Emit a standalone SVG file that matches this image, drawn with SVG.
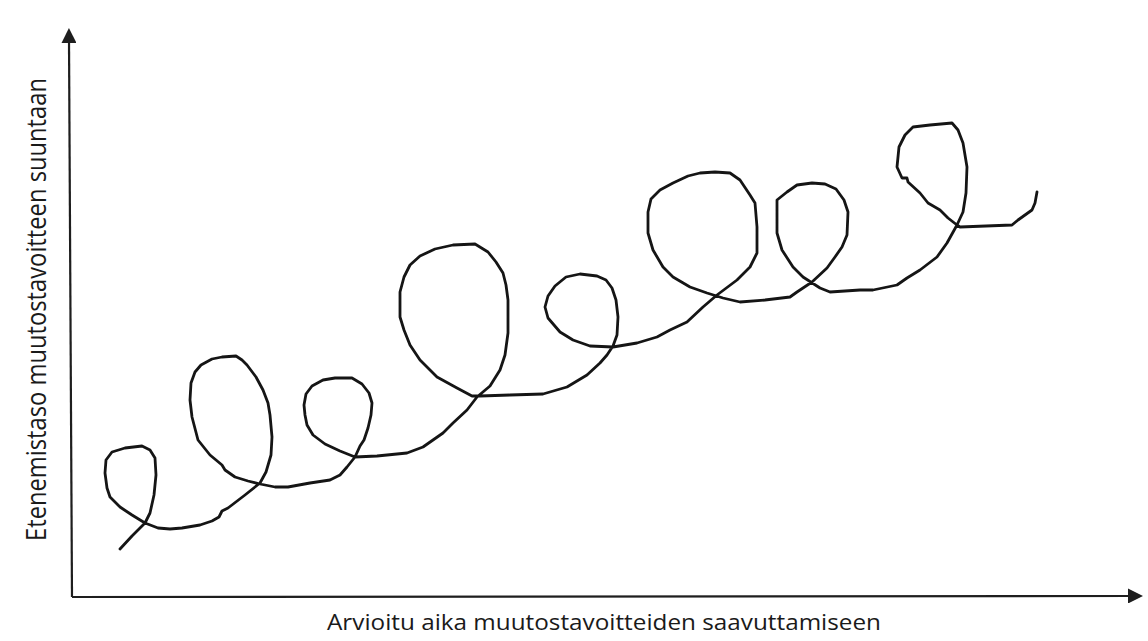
<svg xmlns="http://www.w3.org/2000/svg" width="1148" height="641" viewBox="0 0 1148 641">
  <style>
    .axis { stroke: #1e1e1e; stroke-width: 2.2; fill: none; }
    .curve { stroke: #151515; stroke-width: 2.8; fill: none; stroke-linejoin: round; stroke-linecap: round; }
    .label { font-family: "Open Sans", "Liberation Sans", sans-serif; fill: #1a1a1a; }
  </style>
  <defs>
    <marker id="arrow" markerUnits="userSpaceOnUse" markerWidth="15" markerHeight="15" refX="2" refY="7.5" orient="auto">
      <path d="M0,0 L15,7.5 L0,15 z" fill="#1e1e1e"/>
    </marker>
  </defs>
  <rect width="1148" height="641" fill="#ffffff"/>
  <g id="connectors">
    <line id="y-axis" class="axis" x1="72" y1="597" x2="69" y2="41" marker-end="url(#arrow)"/>
    <line id="x-axis" class="axis" x1="72" y1="597" x2="1130" y2="596" marker-end="url(#arrow)"/>
  </g>
  <g id="curve">
    <polyline class="curve" points="120,549 132,536 145,523 150,513 154,495 156,475 155,458 150,450 142,446 125,448 112,452 106,460 105,473 107,488 110,497 120,507 132,515 145,523 158,528 170,529 182,528 200,525 212,521 219,517 222,511 228,508 245,495 260,483 266,472 271,455 272,437 270,415 268,403 263,390 256,377 247,365 242,360 236,356 222,357 212,359 201,365 195,372 191,383 190,400 192,417 198,440 210,455 222,465 225,470 235,477 248,481 260,484 275,487 288,487 310,483 330,480 340,475 347,467 355,457 360,446 364,440 368,428 371,415 372,403 369,393 362,384 352,378 335,378 323,380 312,386 306,394 304,405 305,415 307,425 313,435 325,444 340,451 355,457 377,456 407,453 423,447 443,433 453,423 467,410 477,397 490,386 500,370 505,355 508,333 508,300 506,285 503,273 496,262 488,252 475,244 453,245 435,249 420,256 410,265 404,277 400,292 400,317 404,330 410,345 420,360 437,377 457,388 472,396 480,396 510,395 543,394 567,387 587,375 600,363 607,355 613,346 617,335 618,317 616,300 612,288 606,280 597,276 580,274 566,277 555,286 548,296 545,307 548,318 560,332 573,340 590,346 613,347 637,343 657,337 670,330 687,322 703,307 717,295 737,280 750,267 757,253 757,227 755,203 750,195 740,180 730,173 715,172 700,173 688,176 673,183 660,190 651,199 648,212 648,233 653,250 663,267 673,277 690,287 707,293 723,298 740,302 765,300 790,297 797,292 812,282 827,268 835,257 842,247 847,235 848,212 844,200 836,189 825,184 812,183 797,185 787,192 777,200 777,233 782,250 793,267 803,277 820,288 830,292 860,290 873,290 897,285 907,278 920,270 937,257 947,243 957,225 963,212 966,193 967,167 963,143 958,130 952,123 930,125 913,127 905,135 899,147 897,167 902,178 907,178 908,182 920,193 928,203 940,210 948,218 957,225 960,227 1012,225 1018,220 1032,210 1035,203 1037,192"/>
  </g>
  <g id="y-label">
    <text class="label" transform="translate(46,541) rotate(-90)" font-size="27" textLength="463" lengthAdjust="spacingAndGlyphs">Etenemistaso muutostavoitteen suuntaan</text>
  </g>
  <g id="x-label">
    <text class="label" x="327" y="630" font-size="21" textLength="554" lengthAdjust="spacingAndGlyphs">Arvioitu aika muutostavoitteiden saavuttamiseen</text>
  </g>
</svg>
